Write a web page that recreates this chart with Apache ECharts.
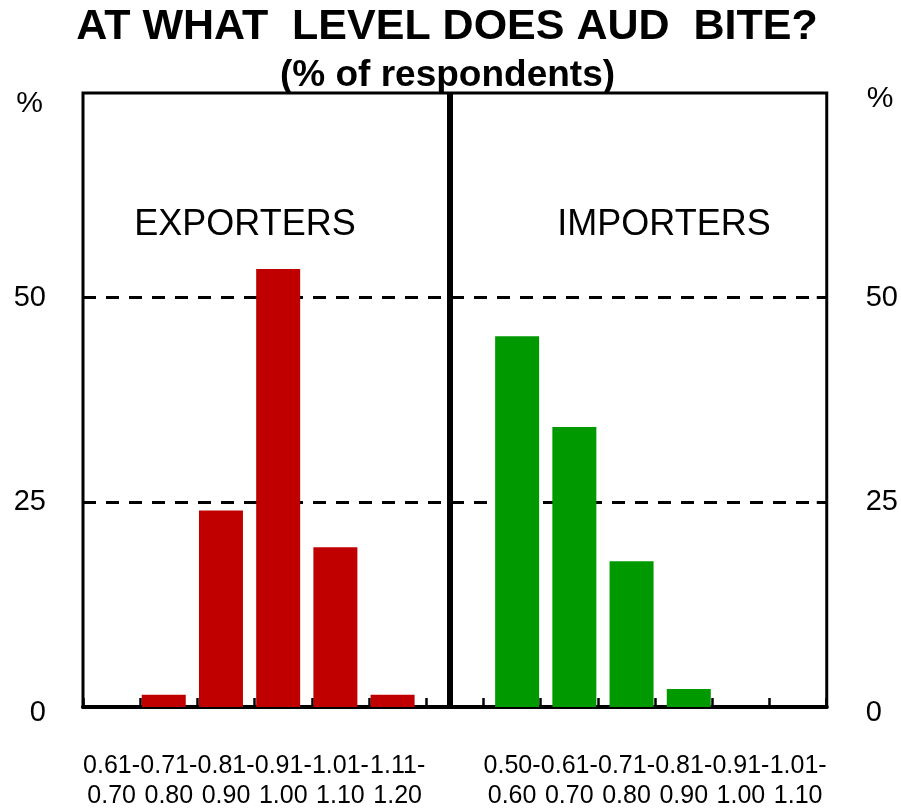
<!DOCTYPE html>
<html>
<head>
<meta charset="utf-8">
<title>AT WHAT LEVEL DOES AUD BITE?</title>
<script src="https://cdn.jsdelivr.net/npm/echarts@6/dist/echarts.min.js"></script>
<style>
  html, body { margin: 0; padding: 0; background: #ffffff; }
  #chart { width: 901px; height: 811px; }
</style>
</head>
<body>
<div id="chart"></div>
<script>
// AUD ranges at which the exchange rate starts to hurt (% of respondents)
var exporterBands = ['0.61-\n0.70', '0.71-\n0.80', '0.81-\n0.90', '0.91-\n1.00', '1.01-\n1.10', '1.11-\n1.20'];
var exporterShares = [0, 1.5, 24, 53.5, 19.5, 1.5];
var importerBands = ['0.50-\n0.60', '0.61-\n0.70', '0.71-\n0.80', '0.81-\n0.90', '0.91-\n1.00', '1.01-\n1.10'];
var importerShares = [45.3, 34.2, 17.8, 2.2, 0, 0];
var yTicks = [0, 25, 50, 75];

var FONT = "'Liberation Sans', Arial, Helvetica, sans-serif";

// One continuous category axis: exporters, an empty gap slot holding the divider, importers
var categories = exporterBands.concat([''], importerBands);
var gapIndex = exporterBands.length;

function pad(values, before, after) {
  var out = [];
  for (var i = 0; i < before; i++) out.push(null);
  values.forEach(function (v) { out.push(v); });
  for (var j = 0; j < after; j++) out.push(null);
  return out;
}
var redData = pad(exporterShares, 0, importerBands.length + 1);
var greenData = pad(importerShares, exporterBands.length + 1, 0);

// dashed guides only at the inner ticks; the frame covers the bottom and top
var guideColors = yTicks.map(function (v, i) {
  return (i === 0 || i === yTicks.length - 1) ? 'rgba(0,0,0,0)' : '#000';
});

var chart = echarts.init(document.getElementById('chart'), null, { renderer: 'canvas' });

function yAxisDef(position, margin, showSplit) {
  return {
    type: 'value',
    position: position,
    min: yTicks[0],
    max: yTicks[yTicks.length - 1],
    interval: yTicks[1] - yTicks[0],
    axisLine: { show: false },
    axisTick: { show: true, inside: true, length: 10, lineStyle: { color: '#000', width: 3 } },
    axisLabel: {
      show: true,
      margin: margin,
      color: '#000',
      fontFamily: FONT,
      fontSize: 29,
      showMaxLabel: false,
      formatter: function (v) {
        if (v === yTicks[yTicks.length - 1]) return '';
        if (v === yTicks[0]) return '{z|' + v + '}';
        return String(v);
      },
      rich: {
        z: { fontFamily: FONT, fontSize: 29, color: '#000', padding: [12, 0, 0, 0] }
      }
    },
    splitLine: {
      show: showSplit,
      lineStyle: { color: guideColors, width: 3, type: [13, 10] }
    }
  };
}

var option = {
  animation: false,
  backgroundColor: '#ffffff',
  grid: {
    left: 83, right: 74, top: 93, bottom: 103,
    show: true,
    borderColor: '#000',
    borderWidth: 3,
    backgroundColor: 'transparent'
  },
  xAxis: {
    type: 'category',
    data: categories,
    offset: 2,
    axisLine: { show: true, lineStyle: { color: '#000', width: 4 } },
    axisTick: { show: true, inside: true, length: 9, alignWithLabel: false, lineStyle: { color: '#000', width: 2.5 } },
    axisLabel: {
      interval: 0,
      margin: 42,
      color: '#000',
      fontFamily: FONT,
      fontSize: 25,
      lineHeight: 30
    },
    splitLine: { show: false }
  },
  yAxis: [
    yAxisDef('left', 37, true),
    yAxisDef('right', 39, false)
  ],
  series: [
    {
      name: 'EXPORTERS',
      type: 'bar',
      data: redData,
      barWidth: 44,
      barGap: '-77%',
      itemStyle: { color: '#c00000' },
      markLine: {
        silent: true,
        symbol: ['none', 'none'],
        label: { show: false },
        lineStyle: { color: '#000', width: 6, type: 'solid' },
        data: [{ xAxis: gapIndex }]
      }
    },
    {
      name: 'IMPORTERS',
      type: 'bar',
      data: greenData,
      barWidth: 44,
      barGap: '-77%',
      itemStyle: { color: '#009900' }
    }
  ],
  graphic: [
    { type: 'text', x: 447, y: 27,
      style: { text: 'AT WHAT  LEVEL DOES AUD  BITE?', font: 'bold 43px ' + FONT, fill: '#000', align: 'center', verticalAlign: 'middle' } },
    { type: 'text', x: 447.5, y: 76,
      style: { text: '(% of respondents)', font: 'bold 37px ' + FONT, fill: '#000', align: 'center', verticalAlign: 'middle' } },
    { type: 'text', x: 29.5, y: 104,
      style: { text: '%', font: '30px ' + FONT, fill: '#000', align: 'center', verticalAlign: 'middle' } },
    { type: 'text', x: 880, y: 99,
      style: { text: '%', font: '30px ' + FONT, fill: '#000', align: 'center', verticalAlign: 'middle' } },
    { type: 'text', x: 245, y: 225,
      style: { text: 'EXPORTERS', font: '36px ' + FONT, fill: '#000', align: 'center', verticalAlign: 'middle' } },
    { type: 'text', x: 664, y: 225,
      style: { text: 'IMPORTERS', font: '36px ' + FONT, fill: '#000', align: 'center', verticalAlign: 'middle' } }
  ]
};

chart.setOption(option);
</script>
</body>
</html>
